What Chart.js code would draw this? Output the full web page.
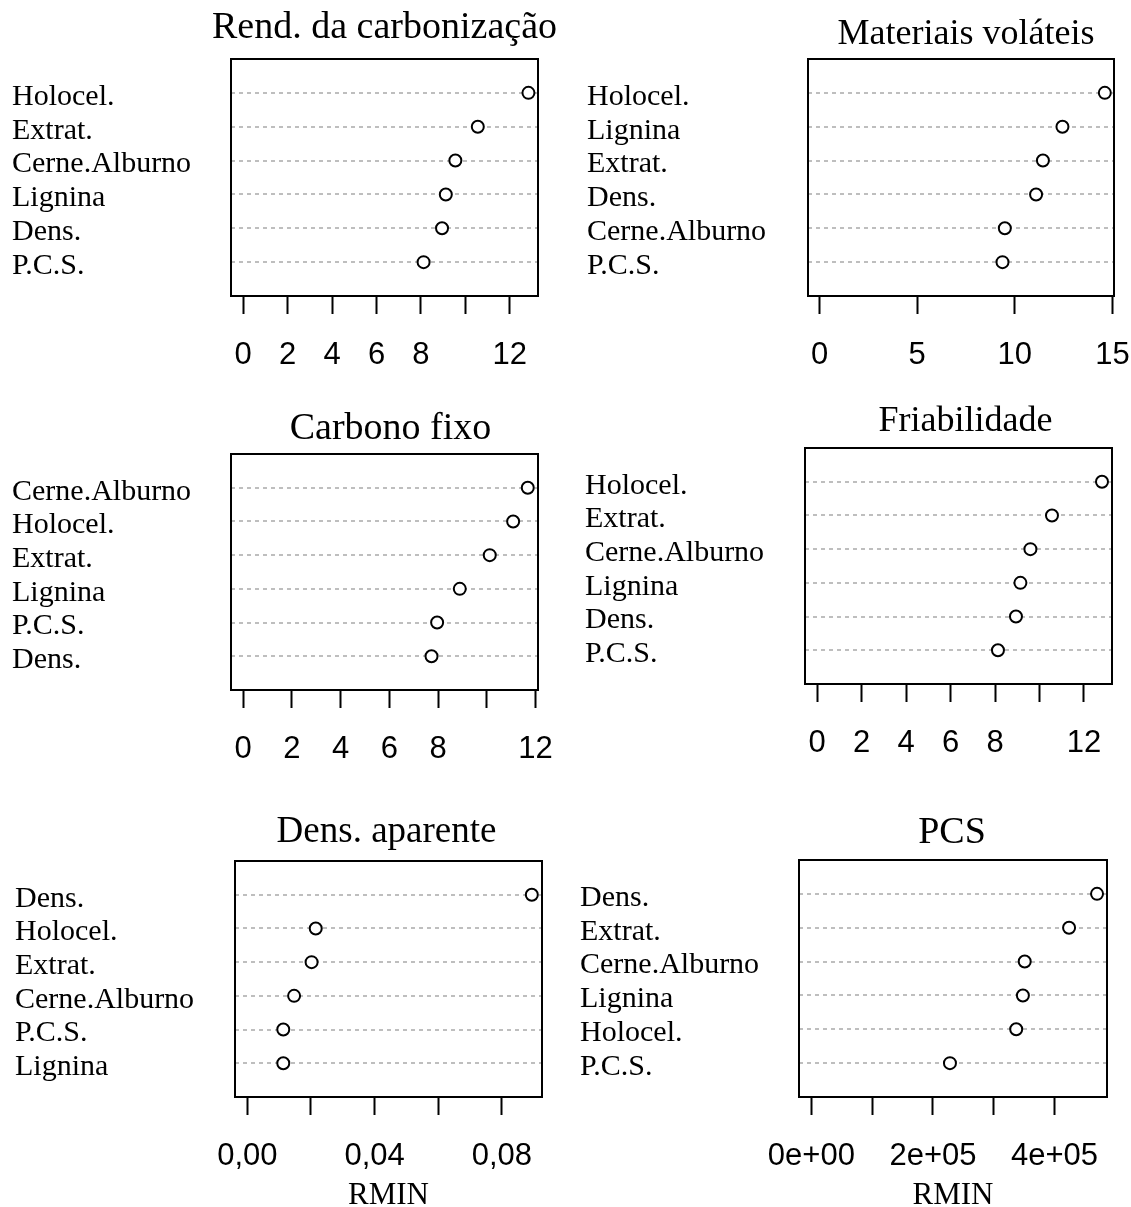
<!DOCTYPE html>
<html lang="pt">
<head>
<meta charset="UTF-8">
<title>RMIN - gráficos de pontos</title>
<script src="https://cdn.jsdelivr.net/npm/chart.js"></script>
<style>
  body { margin: 0; background: #fff; overflow: hidden; }
  #wrap { position: relative; width: 1131px; height: 1207px; }
  #wrap canvas { position: absolute; }
</style>
</head>
<body>
<div id="wrap"></div>
<script>
// categorias de cima para baixo, com os valores de RMIN
const catsRend = ['Holocel.', 'Extrat.', 'Cerne.Alburno', 'Lignina', 'Dens.', 'P.C.S.'];
const valsRend = [12.84, 10.56, 9.55, 9.12, 8.95, 8.12];
const ticksRend = [0, 2, 4, 6, 8, 10, 12];
const tickLabelsRend = ['0', '2', '4', '6', '8', '', '12'];

const catsVolat = ['Holocel.', 'Lignina', 'Extrat.', 'Dens.', 'Cerne.Alburno', 'P.C.S.'];
const valsVolat = [14.61, 12.44, 11.44, 11.09, 9.49, 9.37];
const ticksVolat = [0, 5, 10, 15];
const tickLabelsVolat = ['0', '5', '10', '15'];

const catsCarb = ['Cerne.Alburno', 'Holocel.', 'Extrat.', 'Lignina', 'P.C.S.', 'Dens.'];
const valsCarb = [11.68, 11.08, 10.12, 8.89, 7.96, 7.73];
const ticksCarb = [0, 2, 4, 6, 8, 10, 12];
const tickLabelsCarb = ['0', '2', '4', '6', '8', '', '12'];

const catsFriab = ['Holocel.', 'Extrat.', 'Cerne.Alburno', 'Lignina', 'Dens.', 'P.C.S.'];
const valsFriab = [12.81, 10.56, 9.59, 9.14, 8.94, 8.13];
const ticksFriab = [0, 2, 4, 6, 8, 10, 12];
const tickLabelsFriab = ['0', '2', '4', '6', '8', '', '12'];

const catsDens = ['Dens.', 'Holocel.', 'Extrat.', 'Cerne.Alburno', 'P.C.S.', 'Lignina'];
const valsDens = [0.0894, 0.0215, 0.0202, 0.0147, 0.0113, 0.0113];
const ticksDens = [0, 0.02, 0.04, 0.06, 0.08];
const tickLabelsDens = ['0,00', '', '0,04', '', '0,08'];

const catsPcs = ['Dens.', 'Extrat.', 'Cerne.Alburno', 'Lignina', 'Holocel.', 'P.C.S.'];
const valsPcs = [470000, 424000, 351000, 348000, 337000, 228000];
const ticksPcs = [0, 100000, 200000, 300000, 400000];
const tickLabelsPcs = ['0e+00', '', '2e+05', '', '4e+05'];

const SERIF = '"Liberation Serif", "Times New Roman", serif';
const SANS = '"Liberation Sans", Arial, sans-serif';
const TITLE_SPACE = 64;

// moldura preta em volta da área do gráfico (box() do R)
const boxPlugin = {
    id: 'box',
    afterDraw(chart) {
        const a = chart.chartArea;
        const ctx = chart.ctx;
        ctx.save();
        ctx.strokeStyle = '#000';
        ctx.lineWidth = 2;
        ctx.strokeRect(a.left, a.top, a.right - a.left, a.bottom - a.top);
        ctx.restore();
    }
};

// título centrado sobre a moldura, podendo ser mais largo que ela
const panelTitlePlugin = {
    id: 'panelTitle',
    afterDraw(chart, args, opts) {
        const a = chart.chartArea;
        const ctx = chart.ctx;
        ctx.save();
        ctx.font = opts.size + 'px ' + SERIF;
        ctx.fillStyle = '#000';
        ctx.textAlign = 'center';
        ctx.textBaseline = 'middle';
        ctx.fillText(opts.text, (a.left + a.right) / 2 + opts.dx, a.top - opts.gap);
        ctx.restore();
    }
};

const panels = [
    { title: 'Rend. da carbonização', cats: catsRend, vals: valsRend, ticks: ticksRend, tickLabels: tickLabelsRend,
      pos: { left: 12, boxL: 231, boxR: 538, boxT: 59, boxB: 296, xmin: -0.55, xmax: 13.27, titleGap: 31, titleSize: 38, titleDx: 0 } },
    { title: 'Materiais voláteis', cats: catsVolat, vals: valsVolat, ticks: ticksVolat, tickLabels: tickLabelsVolat,
      pos: { left: 587, boxL: 808, boxR: 1114, boxT: 59, boxB: 296, xmin: -0.59, xmax: 15.08, titleGap: 24, titleSize: 36, titleDx: 5 } },
    { title: 'Carbono fixo', cats: catsCarb, vals: valsCarb, ticks: ticksCarb, tickLabels: tickLabelsCarb,
      pos: { left: 12, boxL: 231, boxR: 538, boxT: 454, boxB: 690, xmin: -0.5, xmax: 12.1, titleGap: 25, titleSize: 38, titleDx: 6 } },
    { title: 'Friabilidade', cats: catsFriab, vals: valsFriab, ticks: ticksFriab, tickLabels: tickLabelsFriab,
      pos: { left: 585, boxL: 805, boxR: 1112, boxT: 448, boxB: 684, xmin: -0.55, xmax: 13.26, titleGap: 26, titleSize: 36, titleDx: 7 } },
    { title: 'Dens. aparente', cats: catsDens, vals: valsDens, ticks: ticksDens, tickLabels: tickLabelsDens, axisTitle: 'RMIN',
      pos: { left: 15, boxL: 235, boxR: 542, boxT: 861, boxB: 1097, xmin: -0.00387, xmax: 0.0926, titleGap: 29, titleSize: 37, titleDx: -2 } },
    { title: 'PCS', cats: catsPcs, vals: valsPcs, ticks: ticksPcs, tickLabels: tickLabelsPcs, axisTitle: 'RMIN',
      pos: { left: 580, boxL: 799, boxR: 1107, boxT: 860, boxB: 1097, xmin: -20400, xmax: 486400, titleGap: 27, titleSize: 38, titleDx: -1 } }
];

function makePanel(p) {
    const L = p.pos;
    const withTitle = !!p.axisTitle;
    const xAxisH = withTitle ? 118 : 80;
    const padRight = 26;
    const w = L.boxR - L.left + padRight;
    const h = TITLE_SPACE + (L.boxB - L.boxT) + xAxisH;
    const canvas = document.createElement('canvas');
    canvas.width = w;
    canvas.height = h;
    canvas.style.left = L.left + 'px';
    canvas.style.top = (L.boxT - TITLE_SPACE) + 'px';
    canvas.style.width = w + 'px';
    canvas.style.height = h + 'px';
    document.getElementById('wrap').appendChild(canvas);

    const n = p.cats.length;

    new Chart(canvas, {
        type: 'scatter',
        data: {
            datasets: [{
                data: p.vals.map((v, i) => ({ x: v, y: n - i })),
                pointRadius: 6,
                pointHoverRadius: 6,
                pointBorderWidth: 2,
                borderColor: '#000',
                backgroundColor: '#fff'
            }]
        },
        options: {
            responsive: false,
            animation: false,
            devicePixelRatio: 1,
            layout: { padding: { left: 0, right: padRight, top: TITLE_SPACE, bottom: 0 } },
            plugins: {
                legend: { display: false },
                tooltip: { enabled: false },
                panelTitle: { text: p.title, size: L.titleSize, gap: L.titleGap, dx: L.titleDx }
            },
            scales: {
                x: {
                    type: 'linear', min: L.xmin, max: L.xmax,
                    afterBuildTicks: s => { s.ticks = p.ticks.map(v => ({ value: v })); },
                    afterFit: s => { s.height = xAxisH; s.paddingLeft = 0; s.paddingRight = 0; },
                    grid: { drawOnChartArea: false, drawTicks: true, tickLength: 18, tickWidth: 2, tickColor: '#000' },
                    border: { display: false },
                    ticks: {
                        autoSkip: false, maxRotation: 0, padding: 23, color: '#000',
                        font: { family: SANS, size: 31, lineHeight: 1.2 },
                        callback: (v, i) => p.tickLabels[i]
                    },
                    title: {
                        display: withTitle, text: p.axisTitle || '', color: '#000',
                        font: { family: SERIF, size: 31, lineHeight: 1.2 },
                        padding: { top: 0, bottom: 1 }
                    }
                },
                y: {
                    type: 'linear', min: 0, max: n + 1,
                    afterBuildTicks: s => { s.ticks = p.cats.map((c, i) => ({ value: n - i })); },
                    afterFit: s => { s.width = L.boxL - L.left; },
                    grid: { drawTicks: false, color: '#bebebe', lineWidth: 2 },
                    border: { display: false, dash: [4, 4] },
                    ticks: {
                        crossAlign: 'far', labelOffset: 4, color: '#000',
                        font: { family: SERIF, size: 30, lineHeight: 1.2 },
                        callback: v => p.cats[n - v]
                    }
                }
            }
        },
        plugins: [boxPlugin, panelTitlePlugin]
    });
}

panels.forEach(makePanel);
</script>
</body>
</html>
